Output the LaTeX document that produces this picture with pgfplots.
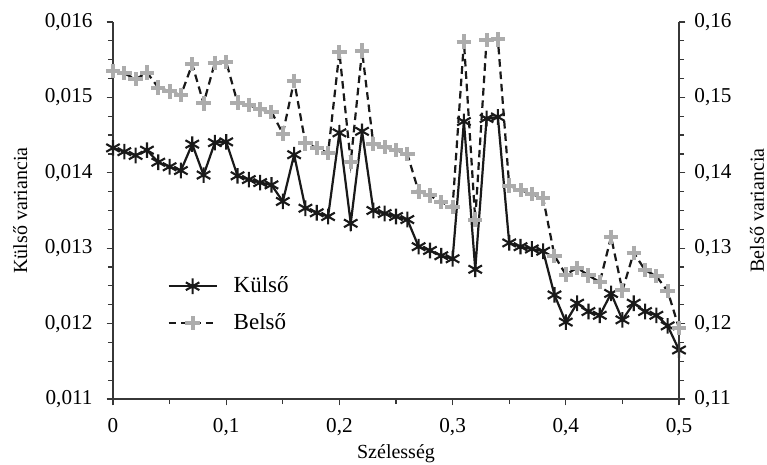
\documentclass[border=0pt]{standalone}
\usepackage{fontspec}
\setmainfont{Liberation Serif}
\usepackage{pgfplots}
\pgfplotsset{compat=1.18}

% x, Külső variancia
\pgfplotstableread{
x y
0.00 0.01433
0.01 0.01428
0.02 0.01423
0.03 0.01430
0.04 0.01414
0.05 0.01408
0.06 0.01403
0.07 0.01438
0.08 0.01397
0.09 0.01440
0.10 0.01441
0.11 0.01396
0.12 0.01391
0.13 0.01387
0.14 0.01384
0.15 0.01362
0.16 0.01424
0.17 0.01353
0.18 0.01347
0.19 0.01342
0.20 0.01453
0.21 0.01333
0.22 0.01455
0.23 0.01350
0.24 0.01346
0.25 0.01342
0.26 0.01338
0.27 0.01302
0.28 0.01297
0.29 0.01290
0.30 0.01286
0.31 0.01468
0.32 0.01272
0.33 0.01472
0.34 0.01474
0.35 0.01307
0.36 0.01302
0.37 0.01299
0.38 0.01296
0.39 0.01238
0.40 0.01202
0.41 0.01227
0.42 0.01216
0.43 0.01211
0.44 0.01240
0.45 0.01205
0.46 0.01227
0.47 0.01216
0.48 0.01211
0.49 0.01197
0.50 0.01165
}\kulso

% x, Belső variancia
\pgfplotstableread{
x y
0.00 0.1535
0.01 0.1532
0.02 0.1524
0.03 0.1533
0.04 0.1513
0.05 0.1508
0.06 0.1503
0.07 0.1544
0.08 0.1492
0.09 0.1546
0.10 0.1547
0.11 0.1493
0.12 0.1490
0.13 0.1484
0.14 0.1481
0.15 0.1452
0.16 0.1522
0.17 0.1439
0.18 0.1433
0.19 0.1426
0.20 0.1560
0.21 0.1414
0.22 0.1562
0.23 0.1438
0.24 0.1434
0.25 0.1430
0.26 0.1425
0.27 0.1375
0.28 0.1370
0.29 0.1361
0.30 0.1355
0.31 0.1574
0.32 0.1338
0.33 0.1576
0.34 0.1577
0.35 0.1383
0.36 0.1377
0.37 0.1372
0.38 0.1366
0.39 0.1290
0.40 0.1265
0.41 0.1274
0.42 0.1264
0.43 0.1255
0.44 0.1315
0.45 0.1244
0.46 0.1294
0.47 0.1271
0.48 0.1263
0.49 0.1243
0.50 0.1194
}\belso

\definecolor{markgray}{RGB}{172,172,172}
\definecolor{axisgray}{RGB}{55,55,55}

\pgfplotsset{
  common/.style={
    scale only axis,
    width=283pt, height=188.5pt,
    xmin=0, xmax=0.5,
    xtick={0,0.1,...,0.5},
    minor x tick num=1,
    minor y tick num=3,
    tick align=outside,
    major tick length=3.2pt,
    minor tick length=2.5pt,
    axis line style={axisgray, line width=0.7pt},
    every tick/.style={axisgray, line width=0.6pt},
    tick label style={font=\fontsize{10.6}{12}\selectfont},
    label style={font=\fontsize{11.5}{13}\selectfont},
    /pgf/number format/assume math mode=true,
    /pgf/number format/use comma,
    scaled ticks=false,
    clip=false,
  },
  kmark/.style={black!90, line width=1.1pt, mark=asterisk, mark size=3.9pt, mark options={line width=1.05pt}},
  bmark/.style={black!90, line width=1.1pt, dash pattern=on 3.8pt off 2.4pt, mark=+, mark size=3.6pt,
    mark options={solid, markgray, line width=2pt}},
}

\begin{document}
\begin{tikzpicture}
\begin{axis}[
    common,
    name=ax,
    ymin=0.011, ymax=0.016,
    ytick={0.011,0.012,...,0.016},
    axis y line*=left,
    axis x line*=bottom,
    xticklabel style={yshift=-3pt, /pgf/number format/fixed, /pgf/number format/precision=1},
    yticklabel style={xshift=-3.5pt, /pgf/number format/fixed, /pgf/number format/fixed zerofill, /pgf/number format/precision=3},
    xlabel={Szélesség},
    ylabel={Külső variancia},
    every axis x label/.style={at={(axis description cs:0.5,-0.145)}, anchor=center},
    every axis y label/.style={at={(axis description cs:-0.164,0.5)}, anchor=center, rotate=90},
]
\addplot[kmark] table {\kulso};
\end{axis}
\begin{axis}[
    common,
    ymin=0.11, ymax=0.16,
    ytick={0.11,0.12,...,0.16},
    axis y line*=right,
    axis x line=none,
    yticklabel style={xshift=1pt, /pgf/number format/fixed, /pgf/number format/fixed zerofill, /pgf/number format/precision=2},
    ylabel={Belső variancia},
    every axis y label/.style={at={(axis description cs:1.138,0.5)}, anchor=center, rotate=90},
    legend style={draw=none, fill=none, at={(axis description cs:0.085,0.25)}, anchor=west,
      font=\fontsize{11.5}{13}\selectfont, row sep=5pt, legend cell align=left},
    legend image code/.code={\draw[mark repeat=2, mark phase=2, #1] plot coordinates {(0pt,0pt) (12pt,0pt) (24pt,0pt)};
      \path (30pt,0pt);},
]
\addlegendimage{kmark}
\addlegendentry{Külső}
\addplot[bmark] table {\belso};
\addlegendentry{Belső}
\end{axis}
\pgfresetboundingbox
\path[use as bounding box] ([xshift=-56.5pt,yshift=-32.5pt]ax.south west) rectangle ([xshift=44pt,yshift=11pt]ax.north east);
\end{tikzpicture}
\end{document}
